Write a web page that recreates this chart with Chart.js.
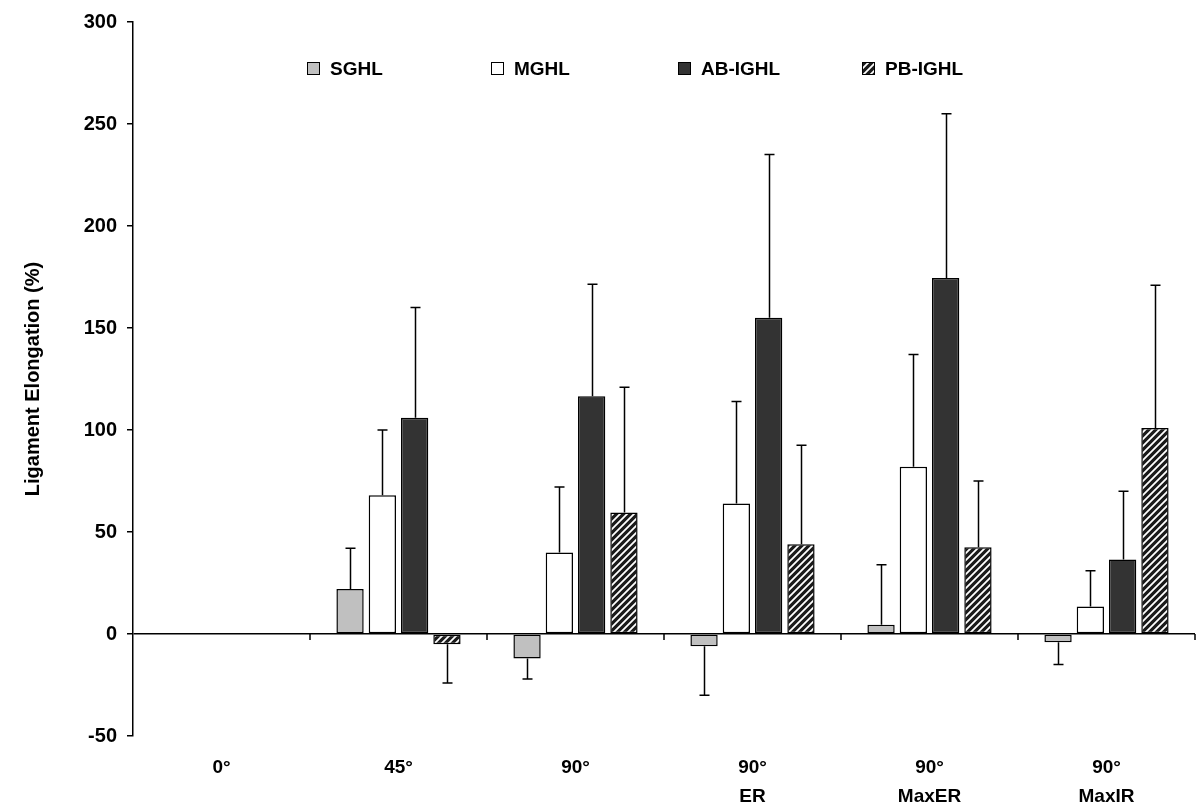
<!DOCTYPE html>
<html>
<head>
<meta charset="utf-8">
<script src="https://cdn.jsdelivr.net/npm/chart.js@4/dist/chart.umd.min.js"></script>
<style>
  html, body { margin: 0; padding: 0; background: #fff; }
  #wrap { width: 1200px; height: 810px; }
</style>
</head>
<body>
<div id="wrap"><canvas id="chart" width="1200" height="810"></canvas></div>
<script>
// Categories and series (percent elongation, mean and SD)
const categories = ['0°', '45°', '90°', ['90°', 'ER'], ['90°', 'MaxER'], ['90°', 'MaxIR']];
const seriesNames = ['SGHL', 'MGHL', 'AB-IGHL', 'PB-IGHL'];

const sghl = [null, 22, -12, -6, 4.5, -4];
const sghlErr = [null, 20, 10, 24, 29.5, 11];
const mghl = [null, 68, 40, 64, 82, 13.5];
const mghlErr = [null, 32, 32, 50, 55, 17.5];
const abIghl = [null, 106, 116.5, 155, 174.5, 36.5];
const abIghlErr = [null, 54, 55, 80, 80.5, 33.5];
const pbIghl = [null, -5, 59.5, 44, 42.5, 101];
const pbIghlErr = [null, 19, 61.5, 48.5, 32.5, 70];

const Y_MIN = -50;
const Y_MAX = 300;
const Y_STEP = 50;

const FONT = "'Liberation Sans', Arial, sans-serif";

// Diagonal hatch pattern: black with white stripes
function makeHatch() {
  const size = 7;
  const c = document.createElement('canvas');
  c.width = size;
  c.height = size;
  const g = c.getContext('2d');
  g.fillStyle = '#1a1a1a';
  g.fillRect(0, 0, size, size);
  g.strokeStyle = '#fff';
  g.lineWidth = 1.8;
  g.beginPath();
  g.moveTo(-1, size + 1);
  g.lineTo(size + 1, -1);
  g.moveTo(-1, 1);
  g.lineTo(1, -1);
  g.moveTo(size - 1, size + 1);
  g.lineTo(size + 1, size - 1);
  g.stroke();
  return g.createPattern(c, 'repeat');
}

const hatch = makeHatch();
const fills = ['#c0c0c0', '#ffffff', '#333333', hatch];
const values = [sghl, mghl, abIghl, pbIghl];
const errors = [sghlErr, mghlErr, abIghlErr, pbIghlErr];

const datasets = seriesNames.map((name, i) => ({
  label: name,
  data: values[i],
  backgroundColor: fills[i],
  borderColor: '#000',
  borderWidth: 1.5,
  borderSkipped: false,
  categoryPercentage: 0.73,
  barPercentage: 0.845,
}));

// One-sided error bars pointing away from zero
const errorBars = {
  id: 'errorBars',
  afterDatasetsDraw(chart) {
    const ctx = chart.ctx;
    const y = chart.scales.y;
    ctx.save();
    ctx.strokeStyle = '#000';
    ctx.lineWidth = 1.5;
    chart.data.datasets.forEach((ds, i) => {
      const meta = chart.getDatasetMeta(i);
      meta.data.forEach((bar, j) => {
        const v = ds.data[j];
        const e = errors[i][j];
        if (v === null || e === null) return;
        const end = y.getPixelForValue(v + (v < 0 ? -e : e));
        const x = Math.round(bar.x) + 0.5;
        ctx.beginPath();
        ctx.moveTo(x, bar.y);
        ctx.lineTo(x, end);
        ctx.moveTo(x - 5, end);
        ctx.lineTo(x + 5, end);
        ctx.stroke();
      });
    });
    ctx.restore();
  }
};

// Category boundary ticks on the zero line
const zeroTicks = {
  id: 'zeroTicks',
  afterDatasetsDraw(chart) {
    const ctx = chart.ctx;
    const x = chart.scales.x;
    const y0 = chart.scales.y.getPixelForValue(0);
    const half = (x.getPixelForValue(1) - x.getPixelForValue(0)) / 2;
    ctx.save();
    ctx.strokeStyle = '#000';
    ctx.lineWidth = 1.5;
    for (let i = 0; i < categories.length; i++) {
      const px = Math.round(x.getPixelForValue(i) + half);
      ctx.beginPath();
      ctx.moveTo(px, y0);
      ctx.lineTo(px, y0 + 6);
      ctx.stroke();
    }
    ctx.restore();
  }
};

// Legend drawn inside the plot area
const insideLegend = {
  id: 'insideLegend',
  afterDraw(chart) {
    const ctx = chart.ctx;
    const left = chart.chartArea.left;
    const offsets = [174, 358, 545, 729];
    ctx.save();
    ctx.font = 'bold 19px ' + FONT;
    ctx.textBaseline = 'alphabetic';
    seriesNames.forEach((name, i) => {
      const bx = left + offsets[i];
      ctx.fillStyle = fills[i];
      ctx.fillRect(bx, 62, 12, 12);
      ctx.strokeStyle = '#000';
      ctx.lineWidth = 1;
      ctx.strokeRect(bx + 0.5, 62.5, 12, 12);
      ctx.fillStyle = '#000';
      ctx.fillText(name, bx + 23, 75);
    });
    ctx.restore();
  }
};

new Chart(document.getElementById('chart'), {
  type: 'bar',
  data: { labels: categories, datasets: datasets },
  plugins: [errorBars, zeroTicks, insideLegend],
  options: {
    responsive: false,
    animation: false,
    layout: { padding: { top: 20, right: 5, left: 0, bottom: 0 } },
    plugins: {
      legend: { display: false },
      tooltip: { enabled: false },
    },
    scales: {
      x: {
        grid: { display: false, drawTicks: false },
        border: { display: false },
        ticks: {
          color: '#000',
          maxRotation: 0,
          autoSkip: false,
          padding: 18,
          font: { family: FONT, size: 19, weight: 'bold', lineHeight: 1.5 },
        },
        afterFit(scale) { scale.height = 74; },
      },
      y: {
        min: Y_MIN,
        max: Y_MAX,
        ticks: {
          stepSize: Y_STEP,
          color: '#000',
          padding: 10,
          font: { family: FONT, size: 20, weight: 'bold' },
        },
        grid: {
          color: (c) => (c.tick && c.tick.value === 0 ? '#000' : 'rgba(0,0,0,0)'),
          lineWidth: 1.5,
          tickColor: '#000',
          tickLength: 6,
          tickWidth: 1.5,
        },
        border: { display: true, color: '#000', width: 1.5 },
        title: {
          display: true,
          text: 'Ligament Elongation (%)',
          color: '#000',
          padding: { top: 21, bottom: 0 },
          font: { family: FONT, size: 20, weight: 'bold' },
        },
        afterFit(scale) { scale.width = 133; },
      },
    },
  },
});
</script>
</body>
</html>
